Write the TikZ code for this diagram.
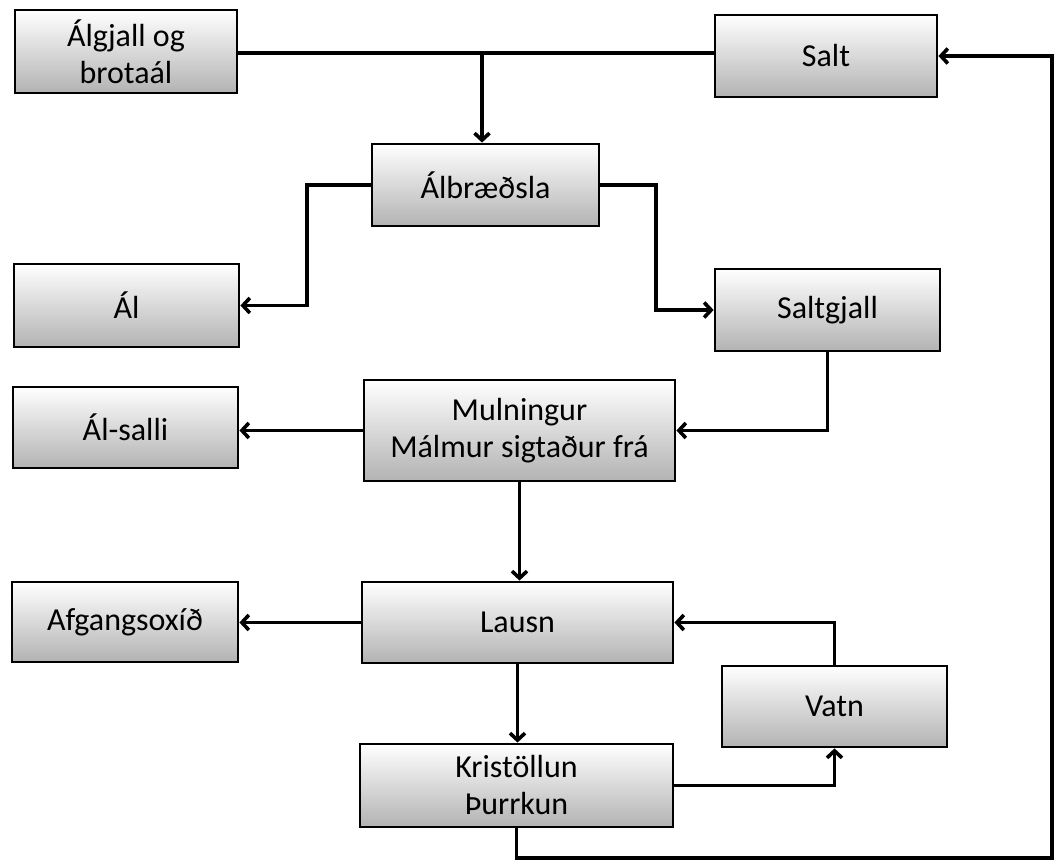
\documentclass[tikz,border=0pt]{standalone}
\usepackage{fontspec}
\setmainfont{Carlito}
\usetikzlibrary{arrows.meta}
\tikzset{
  box/.style={draw=black, line width=2.8pt, shading=axis, top color=white, bottom color=black!30,
    align=center, inner sep=0pt, font=\fontsize{32}{37}\selectfont, text=black},
  conn/.style={draw=black, line width=3.6pt},
  arr/.style={conn, -{Straight Barb[length=7pt,width=15pt,line width=3.6pt]}}
}
\begin{document}
\begin{tikzpicture}[x=1pt,y=-1pt]
\useasboundingbox (0,0) rectangle (1058,861);
\node[box, minimum width=222pt, minimum height=83pt] (alg) at (126,51.5) {Álgjall og\\brotaál};
\node[box, minimum width=222pt, minimum height=82pt] (salt) at (826,56) {Salt};
\node[box, minimum width=227pt, minimum height=82pt] (albr) at (485.5,185) {Álbræðsla};
\node[box, minimum width=225pt, minimum height=83pt] (al) at (126.5,305.5) {Ál};
\node[box, minimum width=225pt, minimum height=82pt] (saltgj) at (827.5,310) {Saltgjall};
\node[box, minimum width=225pt, minimum height=81pt] (alsalli) at (125.5,427.5) {Ál-salli};
\node[box, minimum width=311pt, minimum height=101pt] (muln) at (519.5,430.5) {Mulningur\\Málmur sigtaður frá};
\node[box, minimum width=226pt, minimum height=80pt] (afg) at (125,622) {Afgangsoxíð};
\node[box, minimum width=311pt, minimum height=81pt] (lausn) at (517.5,622.5) {Lausn};
\node[box, minimum width=225pt, minimum height=81pt] (vatn) at (834.5,706.5) {Vatn};
\node[box, minimum width=313pt, minimum height=83pt] (krist) at (516.5,785.5) {Kristöllun\\Þurrkun};

\coordinate (j1) at (482,53);
\coordinate (c1) at (307,0);
\coordinate (c2) at (656,0);
\coordinate (rb) at (1052,858);

\draw[conn] (alg.east |- j1) -- (salt.west |- j1);
\draw[arr] (j1) -- (albr.north -| j1);
\draw[arr] (albr.west) -| (c1 |- al.east) -- (al.east);
\draw[arr] (albr.east) -| (c2 |- saltgj.west) -- (saltgj.west);
\draw[arr] (saltgj.south) |- (muln.east);
\draw[arr] (muln.west) -- (muln.west -| alsalli.east);
\draw[arr] (muln.south) -- (muln.south |- lausn.north);
\draw[arr] (lausn.west) -- (lausn.west -| afg.east);
\draw[arr] (lausn.south) -- (lausn.south |- krist.north);
\draw[arr] (vatn.north) |- (lausn.east);
\draw[arr] (krist.east) -| (vatn.south);
\draw[arr] (krist.south) |- (rb) |- (salt.east);
\end{tikzpicture}
\end{document}
